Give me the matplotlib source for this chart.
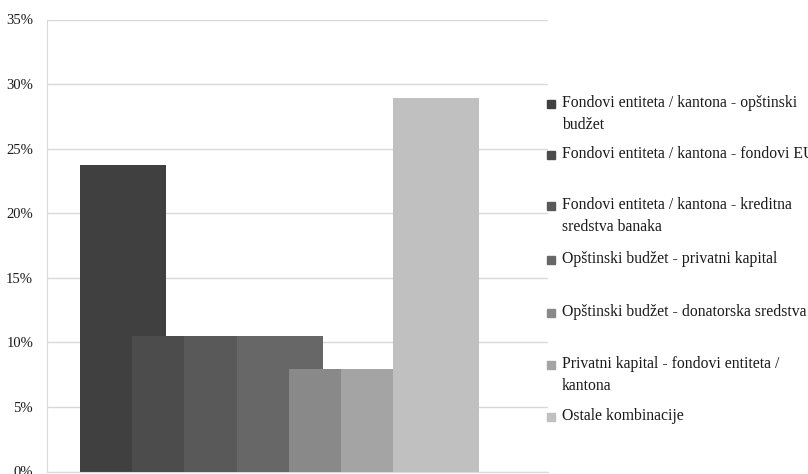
import matplotlib.pyplot as plt
import numpy as np

# share of projects by financing combination (%)
labels = ["Fondovi entiteta / kantona - opštinski\nbudžet",
          "Fondovi entiteta / kantona - fondovi EU",
          "Fondovi entiteta / kantona - kreditna\nsredstva banaka",
          "Opštinski budžet - privatni kapital",
          "Opštinski budžet - donatorska sredstva",
          "Privatni kapital - fondovi entiteta /\nkantona",
          "Ostale kombinacije"]
values = [23.7, 10.5, 10.5, 10.5, 7.9, 7.9, 28.9]
colors = ["#404040", "#4c4c4c", "#595959", "#676767", "#898989", "#a4a4a4", "#c0c0c0"]
yticks = [0, 5, 10, 15, 20, 25, 30, 35]

plt.rcParams['font.family'] = ['Liberation Serif', 'DejaVu Serif']

W, H = 808, 474
fig = plt.figure(figsize=(W / 100, H / 100), dpi=100)
ax = fig.add_axes([47 / W, 2.5 / H, (548 - 47) / W, (471.5 - 19.5) / H])

# overlapping bars, Excel style
width = 86 / 501
step = 52.2 / 501
start = 33 / 501
x = start + np.arange(len(values)) * step
for i in range(len(values)):
    ax.bar(x[i], values[i], width=width, align='edge', color=colors[i], zorder=2 + i)

ax.set_xlim(0, 1)
ax.set_ylim(0, 35)
ax.set_yticks(yticks)
ax.set_yticklabels([f"{t}%" for t in yticks], fontsize=10.5, color="#1a1a1a")
ax.set_xticks([])
ax.tick_params(axis='y', length=0, pad=10)
ax.grid(axis='y', color="#d9d9d9", linewidth=1, zorder=0)
for s in ['top', 'right']:
    ax.spines[s].set_visible(False)
ax.spines['left'].set_color("#d9d9d9")
ax.spines['bottom'].set_color("#d9d9d9")

# legend drawn by hand so wrapped labels align with marker on first line
ys = [104, 155, 206, 260, 313, 365, 417]
for lab, c, yy in zip(labels, colors, ys):
    fig.patches.append(plt.Rectangle((547 / W, 1 - (yy + 4) / H), 8 / W, 8 / H,
                                     transform=fig.transFigure, color=c))
    fig.text(562 / W, 1 - (yy - 9) / H, lab, fontsize=11.3, va='top', ha='left',
             color="#1a1a1a", linespacing=1.5)

fig.savefig("out.png", dpi=100)
